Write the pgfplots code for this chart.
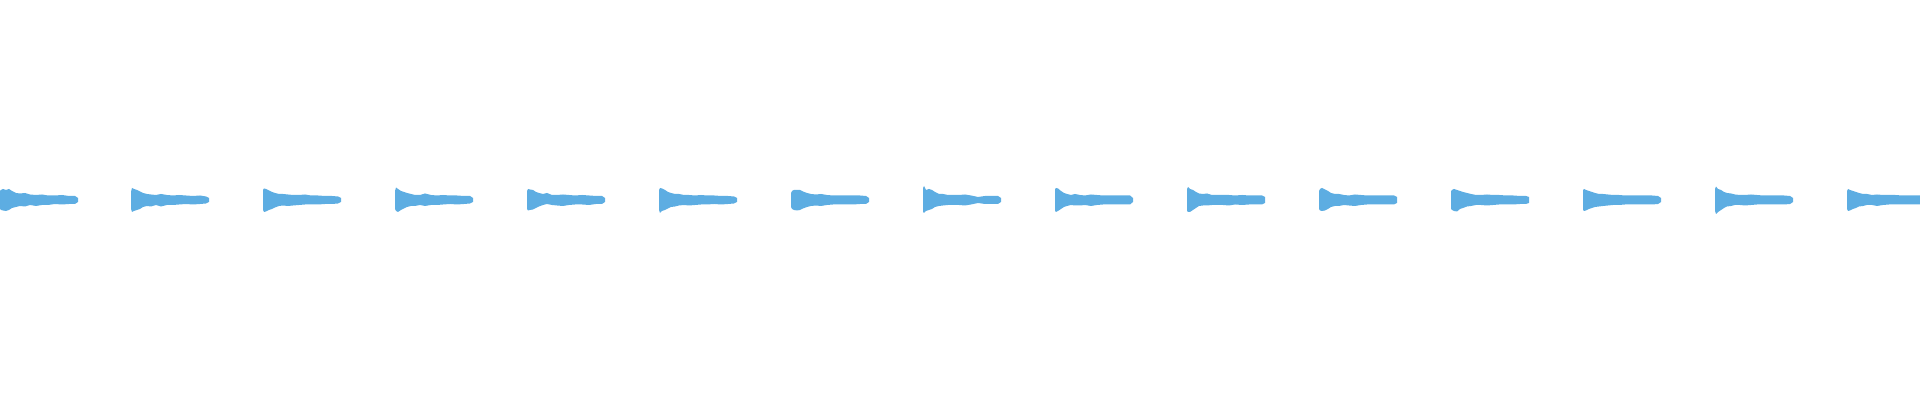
\documentclass[border=0pt]{standalone}
\usepackage{pgfplots}
\usepackage{pgfplotstable}
\pgfplotsset{compat=1.18}
\definecolor{wave}{HTML}{5DADE2}

% one closed outline per burst: upper edge left to right, lower edge back, then nan
% x in px, y in px from the centre line
\pgfplotstableread[row sep=\\]{
x y\\
0 9\\ 1 10\\ 3 11\\ 6 10\\ 9 11\\ 12 9\\ 16 7\\ 20 6.5\\ 25 7\\ 30 5.5\\ 36 5\\ 42 5.5\\ 48 4.5\\ 55 4.5\\ 62 5\\ 69 4\\ 75 4\\ 78 2\\
78 -2\\ 75 -4\\ 69 -4\\ 62 -4.5\\ 55 -4\\ 48 -5\\ 42 -5\\ 36 -6\\ 30 -5\\ 25 -6.5\\ 20 -6\\ 16 -7\\ 12 -8\\ 9 -10\\ 6 -11\\ 3 -10.5\\ 1 -10\\ 0 -9\\
nan nan\\
131 8\\ 132 12\\ 134 11\\ 137 10\\ 140 8.5\\ 143 7\\ 147 6\\ 151 5.5\\ 156 5\\ 161 6\\ 167 5\\ 173 4.5\\ 179 5\\ 186 4.5\\ 193 4\\ 200 4.5\\ 206 3.5\\ 209 2\\
209 -2\\ 206 -3.5\\ 200 -4\\ 193 -4.5\\ 186 -4\\ 179 -4.5\\ 173 -5\\ 167 -5\\ 161 -6.5\\ 156 -5\\ 151 -6.5\\ 147 -6\\ 143 -7\\ 140 -9\\ 137 -10\\ 134 -11\\ 132 -12\\ 131 -9\\
nan nan\\
263 10\\ 264 11.5\\ 266 11\\ 269 9.5\\ 272 8\\ 275 7\\ 279 6\\ 283 6\\ 288 5.5\\ 293 5\\ 299 5\\ 305 5.5\\ 311 4.5\\ 318 4.5\\ 325 4\\ 332 4\\ 338 3.5\\ 341 2\\
341 -2\\ 338 -3.5\\ 332 -4\\ 325 -4\\ 318 -4.5\\ 311 -4.5\\ 305 -4.5\\ 299 -5\\ 293 -5.5\\ 288 -6\\ 283 -5.5\\ 279 -6\\ 275 -7.5\\ 272 -9\\ 269 -10\\ 266 -11.5\\ 264 -12\\ 263 -10\\
nan nan\\
395 9\\ 396 12.5\\ 398 11\\ 401 9\\ 404 8\\ 407 7\\ 411 6\\ 415 5\\ 420 5\\ 425 6.5\\ 431 5\\ 437 4.5\\ 443 5\\ 450 4.5\\ 457 4.5\\ 464 4\\ 470 4\\ 473 2\\
473 -2\\ 470 -3.5\\ 464 -4\\ 457 -4.5\\ 450 -4\\ 443 -4.5\\ 437 -5\\ 431 -5\\ 425 -6\\ 420 -5\\ 415 -6\\ 411 -6\\ 407 -7\\ 404 -8.5\\ 401 -10\\ 398 -12\\ 396 -11\\ 395 -9\\
nan nan\\
527 9\\ 528 11\\ 530 10.5\\ 533 10\\ 536 8\\ 539 7\\ 543 6\\ 547 7\\ 552 5\\ 557 5\\ 563 5.5\\ 569 5\\ 575 4.5\\ 582 5\\ 589 4.5\\ 596 4\\ 602 4\\ 605 2\\
605 -2\\ 602 -4\\ 596 -4\\ 589 -5\\ 582 -4.5\\ 575 -4.5\\ 569 -5\\ 563 -6\\ 557 -5.5\\ 552 -5\\ 547 -4\\ 543 -5\\ 539 -6.5\\ 536 -8\\ 533 -9.5\\ 530 -10\\ 528 -10.5\\ 527 -9\\
nan nan\\
659 10\\ 660 12\\ 662 11.5\\ 665 10\\ 668 8\\ 671 7\\ 675 6\\ 679 6\\ 684 5\\ 689 5\\ 695 4.5\\ 701 5\\ 707 4.5\\ 714 4.5\\ 721 4\\ 728 4\\ 734 3.5\\ 737 2\\
737 -2\\ 734 -3.5\\ 728 -4\\ 721 -4.5\\ 714 -4\\ 707 -4.5\\ 701 -4.5\\ 695 -5\\ 689 -5.5\\ 684 -5\\ 679 -5.5\\ 675 -6.5\\ 671 -7\\ 668 -8.5\\ 665 -10\\ 662 -11\\ 660 -13\\ 659 -10\\
nan nan\\
791 7\\ 792 9\\ 794 10\\ 797 10\\ 800 10\\ 803 8.5\\ 807 7\\ 811 6\\ 816 5.5\\ 821 6\\ 827 5\\ 833 4.5\\ 839 4.5\\ 846 4.5\\ 853 4.5\\ 860 4.5\\ 866 4\\ 869 2\\
869 -2\\ 866 -4\\ 860 -4\\ 853 -4.5\\ 846 -4.5\\ 839 -4.5\\ 833 -4.5\\ 827 -5\\ 821 -6\\ 816 -5.5\\ 811 -6\\ 807 -7\\ 803 -8.5\\ 800 -10\\ 797 -10.5\\ 794 -10\\ 792 -9\\ 791 -7\\
nan nan\\
923 12\\ 924 14\\ 926 10\\ 929 11\\ 932 10\\ 935 8\\ 939 6\\ 943 6\\ 948 5\\ 953 5\\ 959 5\\ 965 5.5\\ 971 4.5\\ 978 3\\ 985 4\\ 992 4\\ 998 4\\ 1001 2\\
1001 -2\\ 998 -4\\ 992 -4\\ 985 -4\\ 978 -3\\ 971 -4.5\\ 965 -5.5\\ 959 -5\\ 953 -5\\ 948 -5\\ 943 -5.5\\ 939 -6\\ 935 -7\\ 932 -9\\ 929 -10\\ 926 -11\\ 924 -13\\ 923 -12\\
nan nan\\
1055 11\\ 1056 12\\ 1058 11.5\\ 1061 9\\ 1064 7\\ 1067 6\\ 1071 5\\ 1075 6\\ 1080 5\\ 1085 4.5\\ 1091 5.5\\ 1097 5\\ 1103 4.5\\ 1110 4.5\\ 1117 4.5\\ 1124 4.5\\ 1130 4.5\\ 1133 2\\
1133 -2\\ 1130 -4.5\\ 1124 -4.5\\ 1117 -4.5\\ 1110 -4.5\\ 1103 -4.5\\ 1097 -5\\ 1091 -6\\ 1085 -5\\ 1080 -5.5\\ 1075 -5.5\\ 1071 -5\\ 1067 -6\\ 1064 -7\\ 1061 -9\\ 1058 -11\\ 1056 -12\\ 1055 -11\\
nan nan\\
1187 11\\ 1188 13\\ 1190 11\\ 1193 10\\ 1196 8\\ 1199 6.5\\ 1203 6\\ 1207 6.5\\ 1212 5\\ 1217 5\\ 1223 5\\ 1229 5\\ 1235 4.5\\ 1242 5\\ 1249 4.5\\ 1256 4.5\\ 1262 4.5\\ 1265 3\\
1265 -3\\ 1262 -4.5\\ 1256 -4.5\\ 1249 -4.5\\ 1242 -5\\ 1235 -4.5\\ 1229 -5.5\\ 1223 -5\\ 1217 -5\\ 1212 -5\\ 1207 -5.5\\ 1203 -5.5\\ 1199 -6\\ 1196 -8\\ 1193 -10\\ 1190 -12\\ 1188 -12\\ 1187 -11\\
nan nan\\
1319 9\\ 1320 11\\ 1322 12\\ 1325 10.5\\ 1328 9\\ 1331 7\\ 1335 6\\ 1339 6\\ 1344 5\\ 1349 4.5\\ 1355 5.5\\ 1361 5\\ 1367 4.5\\ 1374 4.5\\ 1381 4.5\\ 1388 4.5\\ 1394 4.5\\ 1397 3\\
1397 -3\\ 1394 -4.5\\ 1388 -4.5\\ 1381 -4.5\\ 1374 -4.5\\ 1367 -4.5\\ 1361 -5\\ 1355 -6\\ 1349 -5.5\\ 1344 -5\\ 1339 -6\\ 1335 -6\\ 1331 -7\\ 1328 -9\\ 1325 -10.5\\ 1322 -11\\ 1320 -10.5\\ 1319 -9\\
nan nan\\
1451 9\\ 1452 10\\ 1454 11\\ 1457 10\\ 1460 9\\ 1463 8\\ 1467 7\\ 1471 6\\ 1476 5\\ 1481 5\\ 1487 5.5\\ 1493 5\\ 1499 5\\ 1506 4.5\\ 1513 4.5\\ 1520 4\\ 1526 4\\ 1529 3\\
1529 -3\\ 1526 -4\\ 1520 -4\\ 1513 -4.5\\ 1506 -4.5\\ 1499 -4.5\\ 1493 -5\\ 1487 -5.5\\ 1481 -5\\ 1476 -5\\ 1471 -6\\ 1467 -6.5\\ 1463 -8\\ 1460 -9\\ 1457 -11.5\\ 1454 -11\\ 1452 -10\\ 1451 -9\\
nan nan\\
1583 10\\ 1584 11\\ 1586 10\\ 1589 9\\ 1592 8\\ 1595 7\\ 1599 6\\ 1603 6\\ 1608 5.5\\ 1613 5\\ 1619 5\\ 1625 4.5\\ 1631 4.5\\ 1638 4.5\\ 1645 4.5\\ 1652 4.5\\ 1658 4\\ 1661 2\\
1661 -2\\ 1658 -4\\ 1652 -4.5\\ 1645 -4.5\\ 1638 -4.5\\ 1631 -4.5\\ 1625 -4.5\\ 1619 -5\\ 1613 -5\\ 1608 -5.5\\ 1603 -6\\ 1599 -6.5\\ 1595 -7\\ 1592 -8\\ 1589 -9\\ 1586 -10.5\\ 1584 -11\\ 1583 -10\\
nan nan\\
1715 11\\ 1716 13.5\\ 1718 11\\ 1721 10\\ 1724 8\\ 1727 7\\ 1731 6.5\\ 1735 5.5\\ 1740 5\\ 1745 5\\ 1751 5.5\\ 1757 5\\ 1763 4.5\\ 1770 4.5\\ 1777 4.5\\ 1784 4.5\\ 1790 4\\ 1793 2\\
1793 -2\\ 1790 -4\\ 1784 -4.5\\ 1777 -4.5\\ 1770 -4.5\\ 1763 -4.5\\ 1757 -4.5\\ 1751 -5\\ 1745 -5.5\\ 1740 -5\\ 1735 -5\\ 1731 -6\\ 1727 -6.5\\ 1724 -8\\ 1721 -10\\ 1718 -12\\ 1716 -14\\ 1715 -11\\
nan nan\\
1847 9\\ 1848 11\\ 1850 10\\ 1853 9\\ 1856 8\\ 1859 7\\ 1863 6\\ 1867 6\\ 1872 5\\ 1877 5.5\\ 1883 5\\ 1889 5\\ 1895 5\\ 1902 4.5\\ 1909 4.5\\ 1916 4.5\\ 1922 4.5\\ 1925 2\\
1925 -2\\ 1922 -4.5\\ 1916 -4.5\\ 1909 -4.5\\ 1902 -4.5\\ 1895 -4.5\\ 1889 -4.5\\ 1883 -5\\ 1877 -6\\ 1872 -5\\ 1867 -5\\ 1863 -6\\ 1859 -6.5\\ 1856 -8\\ 1853 -9\\ 1850 -10.5\\ 1848 -11\\ 1847 -9\\
}\wavedata

\begin{document}
\begin{tikzpicture}
\begin{axis}[
	scale only axis,
	width=19.2cm, height=4cm,
	xmin=0, xmax=1920,
	ymin=-200, ymax=200,
	hide axis,
	clip=true,
	unbounded coords=jump,
]
  \addplot[fill=wave, draw=none] table[x=x, y=y] {\wavedata};
\end{axis}
\pgfresetboundingbox
\useasboundingbox (current axis.south west) rectangle (current axis.north east);
\end{tikzpicture}
\end{document}
